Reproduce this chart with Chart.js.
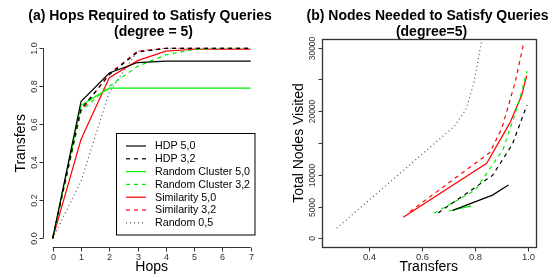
<!DOCTYPE html>
<html><head><meta charset="utf-8">
<script src="https://cdn.jsdelivr.net/npm/chart.js@4.4.0/dist/chart.umd.min.js"></script>
<style>
html,body{margin:0;padding:0;background:#fff;}
#wrap{position:relative;width:557px;height:278px;background:#fff;}
.c{position:absolute;top:0;}
</style></head><body>
<div id="wrap">
<canvas id="a" class="c" style="left:0" width="278" height="278"></canvas>
<canvas id="b" class="c" style="left:278px" width="279" height="278"></canvas>
</div>
<script>
// ---------- data: panel (a) ----------
const hops  = [0, 1, 2, 3, 4, 5, 6, 7];
const hdp50 = [0, 0.72, 0.87, 0.925, 0.933, 0.933, 0.933, 0.933];
const hdp32 = [0, 0.68, 0.86, 0.98, 1.0, 1.0, 1.0, 1.0];
const rc50  = [0, 0.70, 0.79, 0.79, 0.79, 0.79, 0.79, 0.79];
const rc32  = [0, 0.67, 0.80, 0.905, 0.965, 0.993, 1.0, 1.0];
const sim50 = [0, 0.52, 0.845, 0.935, 0.985, 0.995, 0.995, 0.995];
const sim32 = [0, 0.67, 0.865, 0.985, 1.0, 1.0, 1.0, 1.0];
const rnd05 = [0, 0.30, 0.77, 0.985, 1.0, 1.0, 1.0, 1.0];
const seriesNames = ['HDP 5,0','HDP 3,2','Random Cluster 5,0','Random Cluster 3,2','Similarity 5,0','Similarity 3,2','Random 0,5'];
const xTicksA  = [0, 1, 2, 3, 4, 5, 6, 7];
const yTicksA  = [0, 0.2, 0.4, 0.6, 0.8, 1.0];
const yLabelsA = ['0.0','0.2','0.4','0.6','0.8','1.0'];

// ---------- data: panel (b) ----------
const hdp50X = [0.715, 0.865, 0.925];             const hdp50Y = [4400, 6800, 8400];
const hdp32X = [0.66, 0.865, 0.94, 0.995];        const hdp32Y = [4000, 9900, 14800, 21000];
const rc50X  = [0.70, 0.785];                     const rc50Y  = [4300, 5100];
const rc32X  = [0.645, 0.80, 0.905, 0.965, 0.995]; const rc32Y = [3950, 7600, 14000, 21500, 26300];
const sim50X = [0.528, 0.843, 0.931, 0.975, 0.994]; const sim50Y = [3300, 11800, 18200, 22500, 25600];
const sim32X = [0.553, 0.855, 0.90, 0.95, 0.983];  const sim32Y = [4200, 13500, 17300, 24500, 30800];
const rnd05X = [0.277, 0.72, 0.765, 0.795, 0.83];  const rnd05Y = [1600, 17600, 20300, 24500, 32500];
const xTicksB  = [0.4, 0.6, 0.8, 1.0];
const xLabelsB = ['0.4','0.6','0.8','1.0'];
const yTicksB  = [0, 5000, 10000, 15000, 20000, 25000, 30000];
const yLabelsB = ['0','5000','10000','','20000','','30000'];

// ---------- styles ----------
const styles = [
  {c:'#000000', d:[]},
  {c:'#000000', d:[4,4]},
  {c:'#00f000', d:[]},
  {c:'#00f000', d:[4,4]},
  {c:'#ff0000', d:[]},
  {c:'#ff0000', d:[4,4]},
  {c:'#555555', d:[1,3]}
];
const FONT = '"Liberation Sans", Arial, Helvetica, sans-serif';
const AXC = '#333333';

function ds(label, pts, st){
  return {label, data: pts, borderColor: st.c, backgroundColor: st.c, borderDash: st.d,
    borderWidth: 1.2, pointRadius: 0, tension: 0, fill: false, showLine: true};
}
const pairs = (xs, ys) => xs.map((x,i)=>({x, y: ys[i]}));

const seriesA = [hdp50, hdp32, rc50, rc32, sim50, sim32, rnd05];
const seriesB = [[hdp50X,hdp50Y],[hdp32X,hdp32Y],[rc50X,rc50Y],[rc32X,rc32Y],[sim50X,sim50Y],[sim32X,sim32Y],[rnd05X,rnd05Y]];

function drawRotated(ctx, text, x, y, font, color){
  ctx.save();
  ctx.translate(x, y);
  ctx.rotate(-Math.PI/2);
  ctx.font = font; ctx.fillStyle = color;
  ctx.textAlign = 'center'; ctx.textBaseline = 'alphabetic';
  ctx.fillText(text, 0, 0);
  ctx.restore();
}

function seg(ctx, x1, y1, x2, y2){
  ctx.beginPath(); ctx.moveTo(x1, y1); ctx.lineTo(x2, y2); ctx.stroke();
}

function axesPlugin(cfg){
  return {
    id: 'rAxes',
    afterDraw(chart){
      const ctx = chart.ctx, a = chart.chartArea, sx = chart.scales.x, sy = chart.scales.y;
      ctx.save();
      ctx.globalAlpha = 1;
      ctx.strokeStyle = AXC; ctx.lineWidth = 1; ctx.setLineDash([]);
      const Li = Math.round(a.left), Ri = Math.round(a.right);
      const Ti = Math.round(a.top), Bi = Math.round(a.bottom);
      const L = Li+0.5, B = Bi+0.5;
      if (cfg.box){
        ctx.strokeStyle = AXC;
        ctx.lineWidth = 1.3;
        ctx.strokeRect(Li+0.5, Ti+0.5, Ri-Li, Bi-Ti);
        ctx.lineWidth = 1;
      }
      // x axis
      const x0 = sx.getPixelForValue(cfg.xt[0]), x1 = sx.getPixelForValue(cfg.xt[cfg.xt.length-1]);
      seg(ctx, x0, B, x1, B);
      ctx.font = cfg.xFont; ctx.fillStyle = AXC; ctx.textAlign='center'; ctx.textBaseline='alphabetic';
      cfg.xt.forEach((v,i)=>{
        const px = Math.round(sx.getPixelForValue(v))+0.5;
        seg(ctx, px, B, px, B+4);
        ctx.fillText(cfg.xl[i], px, 259.5);
      });
      // y axis
      const y0 = sy.getPixelForValue(cfg.yt[0]), y1 = sy.getPixelForValue(cfg.yt[cfg.yt.length-1]);
      seg(ctx, L, y0, L, y1);
      cfg.yt.forEach((v,i)=>{
        const py = Math.round(sy.getPixelForValue(v))+0.5;
        seg(ctx, L, py, L-4, py);
        if (cfg.yl[i]) drawRotated(ctx, cfg.yl[i], cfg.yLabX, py, cfg.yFont, AXC);
      });
      // titles
      ctx.fillStyle = '#000';
      ctx.font = 'bold 14px ' + FONT; ctx.textAlign='center'; ctx.textBaseline='alphabetic';
      ctx.fillText(cfg.t1, cfg.t1x, 19.5);
      ctx.fillText(cfg.t2, cfg.t2x, 36);
      ctx.font = '14px ' + FONT;
      ctx.fillText(cfg.xTitle, (a.left+a.right)/2, 270.7);
      drawRotated(ctx, cfg.yTitle, 25.2, (a.top+a.bottom)/2, '14px ' + FONT, '#000');
      // legend
      if (cfg.legend){
        const G = {x:116.5, y:133.5, w:138.5, h:101.5};
        ctx.fillStyle = '#fff'; ctx.fillRect(G.x, G.y, G.w, G.h);
        ctx.strokeStyle = '#000'; ctx.lineWidth = 1; ctx.strokeRect(G.x, G.y, G.w, G.h);
        ctx.font = '10.7px ' + FONT; ctx.textAlign='left'; ctx.textBaseline='middle';
        chart.data.datasets.forEach((d,i)=>{
          const yy = 146 + i*12.8;
          ctx.strokeStyle = d.borderColor; ctx.setLineDash(d.borderDash); ctx.lineWidth = 1.2;
          seg(ctx, 126, yy, 146, yy);
          ctx.fillStyle = '#000'; ctx.fillText(d.label, 155, yy+0.5);
        });
        ctx.setLineDash([]);
      }
      ctx.restore();
    }
  };
}

function baseOptions(xmin, xmax, ymin, ymax, pad){
  return {
    responsive: false, animation: false, devicePixelRatio: 1,
    layout: {padding: pad},
    plugins: {legend:{display:false}, tooltip:{enabled:false}, title:{display:false}},
    scales: {
      x: {type:'linear', min:xmin, max:xmax, display:false},
      y: {type:'linear', min:ymin, max:ymax, display:false}
    },
    elements: {line:{tension:0}, point:{radius:0}}
  };
}

// ---------- chart (a) ----------
new Chart(document.getElementById('a'), {
  type: 'scatter',
  data: {datasets: seriesA.map((arr,i)=>ds(seriesNames[i], hops.map((h,j)=>({x:h, y:arr[j]})), styles[i]))},
  options: baseOptions(-0.343, 7.343, -0.0442, 1.0442, {left:43, right:17.6, top:39.9, bottom:31.3}),
  plugins: [axesPlugin({box:false, xt:xTicksA, xl:xTicksA.map(String), yt:yTicksA, yl:yLabelsA,
    xFont:'9px '+FONT, yFont:'9px '+FONT, yLabX:36.5,
    t1:'(a) Hops Required to Satisfy Queries', t1x:150, t2:'(degree = 5)', t2x:153.5,
    xTitle:'Hops', yTitle:'Transfers', legend:true})]
});

// ---------- chart (b) ----------
new Chart(document.getElementById('b'), {
  type: 'scatter',
  data: {datasets: seriesB.map((p,i)=>ds(seriesNames[i], pairs(p[0], p[1]), styles[i]))},
  options: baseOptions(0.2204, 1.0279, -1322, 31322, {left:43.7, right:21.3, top:39.3, bottom:31.3}),
  plugins: [axesPlugin({box:true, xt:xTicksB, xl:xLabelsB, yt:yTicksB, yl:yLabelsB,
    xFont:'9.5px '+FONT, yFont:'8.5px '+FONT, yLabX:37,
    t1:'(b) Nodes Needed to Satisfy Queries', t1x:149.5, t2:'(degree=5)', t2x:153.5,
    xTitle:'Transfers', yTitle:'Total Nodes Visited', legend:false})]
});
</script>
</body></html>
